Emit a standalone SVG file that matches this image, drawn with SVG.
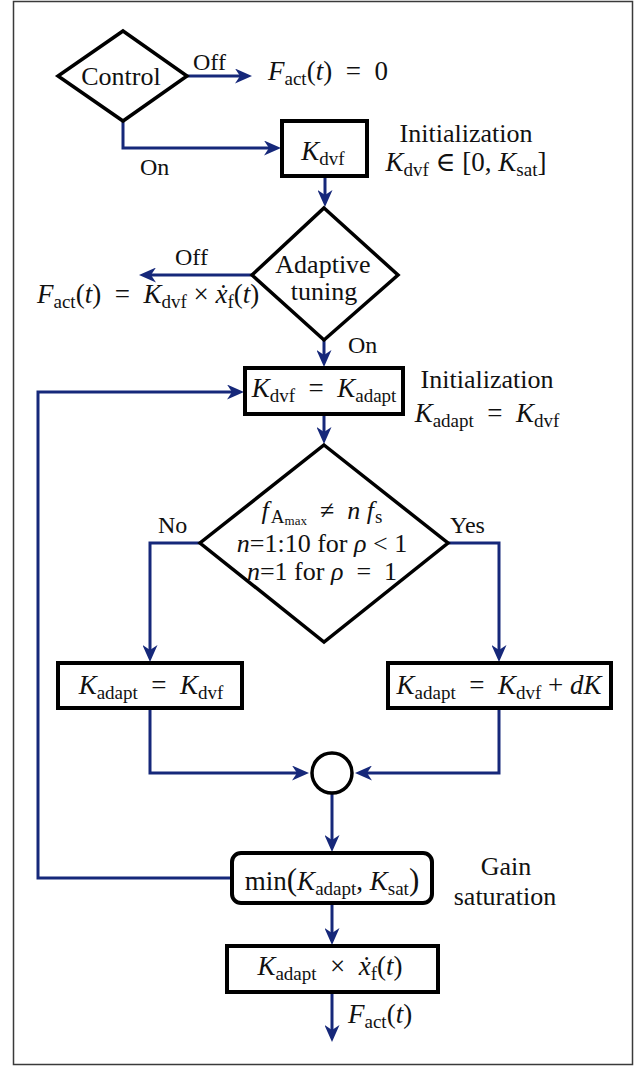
<svg xmlns="http://www.w3.org/2000/svg" width="638" height="1067" viewBox="0 0 638 1067" font-family="'Liberation Serif','DejaVu Serif',serif">
<style>
.frame{fill:#fff;stroke:#3a3a3a;stroke-width:1.5}
.node{fill:#fff;stroke:#000;stroke-width:3.5}
.box{fill:#fff;stroke:#000;stroke-width:4}
.con{fill:none;stroke:#16287a;stroke-width:3}
text{font-family:'Liberation Serif','DejaVu Serif',serif;fill:#111}
.t{font-size:26px}
.lb{font-size:24px}
.m{font-size:27px}
.d{font-size:26px}
.i{font-style:italic}
.s{font-size:19px}
.ss{font-size:13px}
.mid{text-anchor:middle}
</style>
<defs>
<marker id="ah" markerUnits="userSpaceOnUse" markerWidth="18" markerHeight="15" refX="9" refY="7.5" orient="auto">
<path d="M0,0 L17,7.5 L0,15 L5,7.5 Z" fill="#16287a"/>
</marker>
</defs>
<rect class="frame" x="13.5" y="1.5" width="619" height="1063"/>

<g id="connectors">
<path class="con" d="M187,76 H244" marker-end="url(#ah)"/>
<path class="con" d="M123,121 V148 H273" marker-end="url(#ah)"/>
<path class="con" d="M325,176 V199" marker-end="url(#ah)"/>
<path class="con" d="M252,275 H147" marker-end="url(#ah)"/>
<path class="con" d="M324,340 V359" marker-end="url(#ah)"/>
<path class="con" d="M324,414 V436" marker-end="url(#ah)"/>
<path class="con" d="M200,543 H150 V654" marker-end="url(#ah)"/>
<path class="con" d="M448,543 H499 V654" marker-end="url(#ah)"/>
<path class="con" d="M150,708 V773 H301" marker-end="url(#ah)"/>
<path class="con" d="M499,708 V773 H363" marker-end="url(#ah)"/>
<path class="con" d="M332,793 V844" marker-end="url(#ah)"/>
<path class="con" d="M232,878 H38 V392 H236" marker-end="url(#ah)"/>
<path class="con" d="M332,903 V937" marker-end="url(#ah)"/>
<path class="con" d="M332,992 V1034" marker-end="url(#ah)"/>
</g>

<g id="labels">
<text class="lb" x="193" y="70">Off</text>
<text class="m" x="268" y="80"><tspan class="i">F</tspan><tspan class="s" dy="5">act</tspan><tspan dy="-5">(</tspan><tspan class="i">t</tspan>)&#8194;=&#8194;0</text>
<text class="lb" x="140" y="175">On</text>
<text class="t mid" x="466" y="142">Initialization</text>
<text class="m mid" x="466" y="171"><tspan class="i">K</tspan><tspan class="s" dy="5">dvf</tspan><tspan dy="-5"> ∈ [0, </tspan><tspan class="i">K</tspan><tspan class="s" dy="5">sat</tspan><tspan dy="-5">]</tspan></text>
<text class="lb" x="175" y="265">Off</text>
<text class="m" x="37" y="303"><tspan class="i">F</tspan><tspan class="s" dy="5">act</tspan><tspan dy="-5">(</tspan><tspan class="i">t</tspan>)&#8194;=&#8194;<tspan class="i">K</tspan><tspan class="s" dy="5">dvf</tspan><tspan dy="-5"> × </tspan><tspan class="i">ẋ</tspan><tspan class="s" dy="5">f</tspan><tspan dy="-5">(</tspan><tspan class="i">t</tspan>)</text>
<text class="lb" x="348" y="353">On</text>
<text class="t mid" x="487" y="388">Initialization</text>
<text class="m mid" x="487" y="422"><tspan class="i">K</tspan><tspan class="s" dy="5">adapt</tspan><tspan dy="-5">&#8194;=&#8194;</tspan><tspan class="i">K</tspan><tspan class="s" dy="5">dvf</tspan></text>
<text class="lb" x="158" y="533">No</text>
<text class="lb" x="450" y="533">Yes</text>
<text class="t mid" x="506" y="875">Gain</text>
<text class="t mid" x="505" y="905">saturation</text>
<text class="m" x="348" y="1023"><tspan class="i">F</tspan><tspan class="s" dy="5">act</tspan><tspan dy="-5">(</tspan><tspan class="i">t</tspan>)</text>
</g>

<g id="control">
<polygon class="node" points="123,31 187,76 123,121 58,76"/>
<text class="t mid" x="121" y="85">Control</text>
</g>

<g id="kdvf">
<rect class="box" x="282" y="121" width="85" height="55"/>
<text class="m mid" x="323" y="160"><tspan class="i">K</tspan><tspan class="s" dy="5">dvf</tspan></text>
</g>

<g id="adaptive">
<polygon class="node" points="324,208 398,275 324,340 252,275"/>
<text class="t mid" x="323" y="273">Adaptive</text>
<text class="t mid" x="324" y="300">tuning</text>
</g>

<g id="assign">
<rect class="box" x="245" y="368" width="158" height="46"/>
<text class="m mid" x="324" y="397"><tspan class="i">K</tspan><tspan class="s" dy="5">dvf</tspan><tspan dy="-5">&#8194;=&#8194;</tspan><tspan class="i">K</tspan><tspan class="s" dy="5">adapt</tspan></text>
</g>

<g id="condition">
<polygon class="node" points="324,445 448,543 324,642 200,543"/>
<text class="d mid" x="322" y="519"><tspan class="i">f</tspan><tspan class="s" dx="2" dy="4">A</tspan><tspan class="ss" dy="2">max</tspan><tspan dy="-6">&#8194;≠&#8194;</tspan><tspan class="i">n f</tspan><tspan class="s" dx="1" dy="4">s</tspan></text>
<text class="d mid" x="322" y="552"><tspan class="i">n</tspan>=1:10 for <tspan class="i">ρ</tspan> &lt; 1</text>
<text class="d mid" x="322" y="580"><tspan class="i">n</tspan>=1 for <tspan class="i">ρ</tspan>&#8194;=&#8194;1</text>
</g>

<g id="keep">
<rect class="box" x="58" y="663" width="184" height="45"/>
<text class="m mid" x="151" y="694"><tspan class="i">K</tspan><tspan class="s" dy="5">adapt</tspan><tspan dy="-5">&#8194;=&#8194;</tspan><tspan class="i">K</tspan><tspan class="s" dy="5">dvf</tspan></text>
</g>

<g id="increase">
<rect class="box" x="388" y="663" width="223" height="45"/>
<text class="m mid" x="499" y="694"><tspan class="i">K</tspan><tspan class="s" dy="5">adapt</tspan><tspan dy="-5">&#8194;=&#8194;</tspan><tspan class="i">K</tspan><tspan class="s" dy="5">dvf</tspan><tspan dy="-5"> + </tspan><tspan class="i">dK</tspan></text>
</g>

<g id="junction">
<circle class="node" cx="332" cy="773" r="20"/>
</g>

<g id="saturation">
<rect class="box" x="232" y="853" width="200" height="50" rx="9" ry="9"/>
<text class="m mid" x="332" y="890">min<tspan font-size="31px">(</tspan><tspan class="i">K</tspan><tspan class="s" dy="5">adapt</tspan><tspan dy="-5">, </tspan><tspan class="i">K</tspan><tspan class="s" dy="5">sat</tspan><tspan dy="-5" font-size="31px">)</tspan></text>
</g>

<g id="output">
<rect class="box" x="227" y="946" width="211" height="46"/>
<text class="m mid" x="330" y="975"><tspan class="i">K</tspan><tspan class="s" dy="5">adapt</tspan><tspan dy="-5">&#8194;×&#8194;</tspan><tspan class="i">ẋ</tspan><tspan class="s" dy="5">f</tspan><tspan dy="-5">(</tspan><tspan class="i">t</tspan>)</text>
</g>
</svg>
